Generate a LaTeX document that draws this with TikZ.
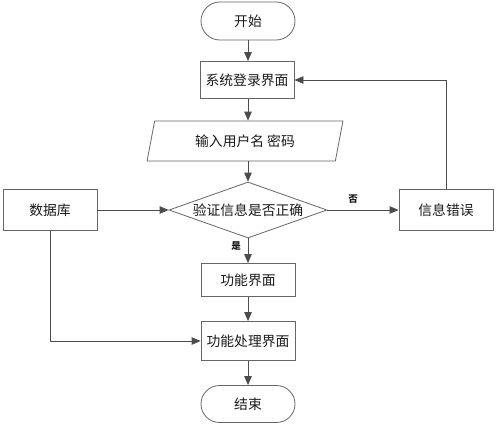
\documentclass[tikz,border=0pt]{standalone}
\usepackage{fontspec}
\newfontfamily\cjk{Noto Sans CJK SC}
\usetikzlibrary{shapes.geometric,shapes.misc,arrows.meta}
\begin{document}
\begin{tikzpicture}[x=1pt,y=-1pt,
  every node/.style={font=\cjk\fontsize{13.8}{16}\selectfont, text=black!90, inner sep=0pt},
  box/.style={draw=black!60, line width=0.8pt, rectangle, minimum width=94pt},
  term/.style={draw=black!60, line width=0.8pt, rounded rectangle, minimum width=94pt, minimum height=38pt},
  io/.style={draw=black!60, line width=0.8pt, trapezium, trapezium left angle=72, trapezium right angle=108, trapezium stretches=true, minimum width=196pt, minimum height=40pt},
  dec/.style={draw=black!60, line width=0.8pt, diamond, shape aspect=2.82, minimum width=158pt, minimum height=56pt},
  conn/.style={draw=black!70, line width=0.8pt, -{Triangle[length=9pt,width=7.5pt]}},
  lbl/.style={font=\cjk\bfseries\fontsize{9.5}{10}\selectfont}]
\useasboundingbox (0,0) rectangle (496,424);
\node[term] (start) at (248,21) {开始};
\node[box, minimum height=37pt] (login) at (247,80) {系统登录界面};
\node[io] (input) at (245,141) {输入用户名 密码};
\node[dec] (check) at (248,210) {验证信息是否正确};
\node[box, minimum height=41pt] (db) at (50,210) {数据库};
\node[box, minimum height=41pt] (err) at (446,210) {信息错误};
\node[box, minimum height=33pt] (func) at (248,280) {功能界面};
\node[box, minimum height=39pt] (proc) at (248,341) {功能处理界面};
\node[term, minimum height=37pt] (end) at (248,404) {结束};
\node[lbl] (no) at (353,199) {否};
\node[lbl] (yes) at (236,246) {是};
\draw[conn] (start.south) -- (start.south |- login.north);
\draw[conn] (login.south -| start.south) -- (start.south |- input.north);
\draw[conn] (input.south -| start.south) -- (check.north);
\draw[conn] (db.east) -- (check.west);
\draw[conn] (check.east) -- (err.west);
\draw[conn] (err.north) |- (login.east);
\draw[conn] (check.south) -- (func.north);
\draw[conn] (func.south) -- (proc.north);
\draw[conn] (db.south) |- (proc.west);
\draw[conn] (proc.south) -- (end.north);
\end{tikzpicture}
\end{document}
